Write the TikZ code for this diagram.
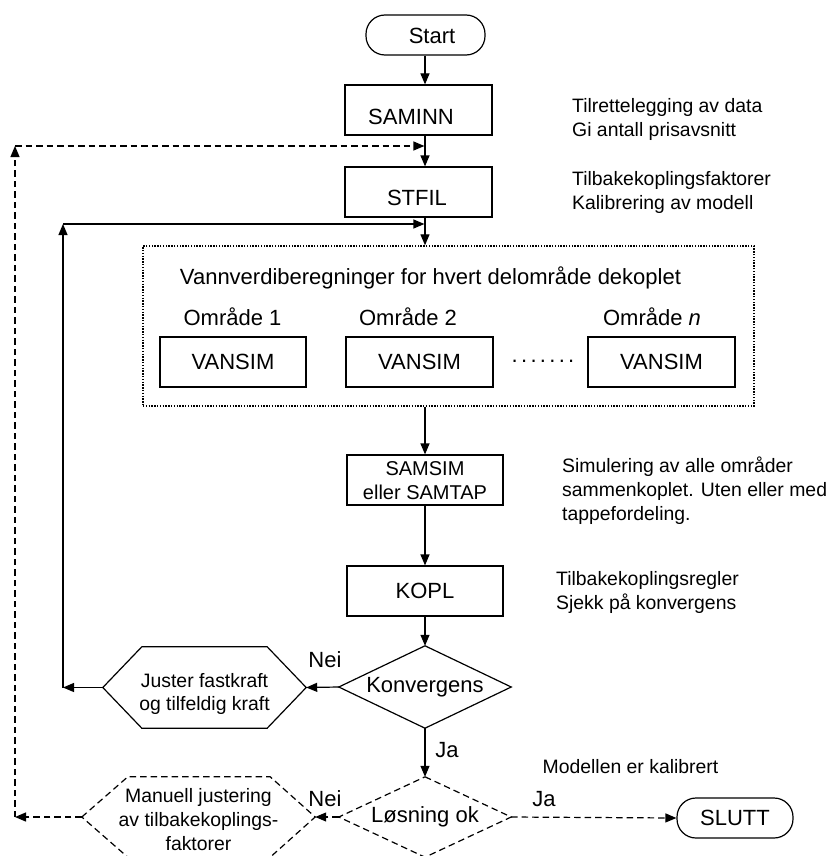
\documentclass[tikz,border=0pt]{standalone}
\usepackage{fontspec}
\setmainfont{Liberation Sans}
\usetikzlibrary{arrows.meta}
\newcommand{\fmain}{\fontsize{22}{26}\selectfont}
\newcommand{\fann}{\fontsize{19.4}{24}\selectfont}
\newcommand{\nudged}[3]{\hspace*{#1}\raisebox{#2}[\height][\depth]{#3}\hspace*{-#1}}
\newcommand{\blockc}[2]{\raisebox{#1}[\height][\depth]{\begin{tabular}{@{}c@{}}#2\end{tabular}}}
\newcommand{\blockl}[1]{\begin{tabular}{@{}l@{}}#1\end{tabular}}
\begin{document}
\begin{tikzpicture}[x=1pt,y=-1pt,
  >={Triangle[length=11pt,width=9pt]},
  conn/.style={line width=1.2pt},
  dconn/.style={line width=1.2pt,dash pattern=on 6.5pt off 4pt},
  procbox/.style={draw,line width=1.2pt,rectangle,inner sep=0pt,font=\fmain,align=center},
  termbox/.style={draw,line width=1.2pt,rectangle,rounded corners=19pt,inner sep=0pt,font=\fmain},
  shapebox/.style={rectangle,inner sep=0pt,align=center},
  dotbox/.style={draw,line width=1.4pt,dash pattern=on 1.4pt off 1.4pt,rectangle,inner sep=0pt},
  note/.style={anchor=west,inner sep=0pt,font=\fann},
  lbl/.style={inner sep=0pt,font=\fmain},
  outl/.style={line width=1.2pt,line join=miter},
  doutl/.style={line width=1.2pt,dash pattern=on 6.5pt off 4pt}
]
\useasboundingbox (0,0) rectangle (827,856);
\coordinate (ax) at (425,0);

% main column
\node[termbox,minimum width=119pt,minimum height=40pt] (start) at (425.5,35) {\nudged{6.5pt}{-1pt}{Start}};
\node[procbox,minimum width=147pt,minimum height=50pt] (saminn) at (418.5,110) {\nudged{-7.5pt}{-7pt}{SAMINN}};
\node[procbox,minimum width=147pt,minimum height=50pt] (stfil) at (418.5,192) {\nudged{-1.5pt}{-6pt}{STFIL}};

\node[dotbox,minimum width=611pt,minimum height=160pt] (vbox) at (448.5,326) {};
\node[lbl] (vtitle) at (430.5,278) {Vannverdiberegninger for hvert delområde dekoplet};
\node[lbl] (o1) at (232.5,317) {Område 1};
\node[lbl] (o2) at (408,317) {Område 2};
\node[lbl] (on) at (652,317) {Område \textit{n}};
\node[procbox,minimum width=146pt,minimum height=50pt] (v1) at (233,362) {VANSIM};
\node[procbox,minimum width=147pt,minimum height=50pt] (v2) at (419.5,362) {VANSIM};
\node[procbox,minimum width=147pt,minimum height=50pt] (vn) at (661.5,362) {VANSIM};
\node[lbl] (vdots) at (543,361) {\addfontfeature{LetterSpace=15}.......};

\node[procbox,minimum width=156pt,minimum height=50pt,font=\fontsize{20}{24}\selectfont] (samsim) at (425,480) {\blockc{-2.4pt}{SAMSIM\\eller SAMTAP}};
\node[procbox,minimum width=156pt,minimum height=50pt] (kopl) at (425,591) {KOPL};

\node[shapebox,minimum width=172pt,minimum height=82pt,font=\fmain] (konv) at (425,687) {Konvergens};
\draw[outl] (konv.north) -- (konv.east) -- (konv.south) -- (konv.west) -- cycle;

\node[shapebox,minimum width=203pt,minimum height=81pt,font=\fontsize{19.4}{23}\selectfont] (juster) at (204.5,687.5) {\blockc{-6.4pt}{Juster fastkraft\\og tilfeldig kraft}};
\draw[outl] (juster.west) -- ([xshift=39pt]juster.north west) -- ([xshift=-39pt]juster.north east) -- (juster.east) -- ([xshift=-39pt]juster.south east) -- ([xshift=39pt]juster.south west) -- cycle;

\node[shapebox,minimum width=172pt,minimum height=80pt,font=\fmain] (losn) at (425,817) {Løsning ok};
\draw[doutl] (losn.north) -- (losn.east) -- (losn.south) -- (losn.west) -- cycle;

\node[shapebox,minimum width=233pt,minimum height=80pt,font=\fann] (man) at (198.5,817) {\blockc{-4.2pt}{Manuell justering\\av tilbakekoplings-\\faktorer}};
\draw[doutl] (man.west) -- ([xshift=46pt]man.north west) -- ([xshift=-45pt]man.north east) -- (man.east) -- ([xshift=-45pt]man.south east) -- ([xshift=46pt]man.south west) -- cycle;

\node[termbox,minimum width=116pt,minimum height=40pt] (slutt) at (735,818) {SLUTT};

% annotations
\node[note] (n1) at (572,119.7) {\blockl{Tilrettelegging av data\\Gi antall prisavsnitt}};
\node[note] (n2) at (572,192.2) {\blockl{Tilbakekoplingsfaktorer\\Kalibrering av modell}};
\node[note] (n3) at (562,491.7) {\blockl{Simulering av alle områder\\sammenkoplet. Uten eller med\\tappefordeling.}};
\node[note] (n4) at (556,592.2) {\blockl{Tilbakekoplingsregler\\Sjekk på konvergens}};
\node[inner sep=0pt,font=\fann] (n5) at (630.5,767) {Modellen er kalibrert};

% branch labels
\node[lbl] (nei1) at (325,660) {Nei};
\node[lbl] (ja1) at (447,750) {Ja};
\node[lbl] (nei2) at (325,799) {Nei};
\node[lbl] (ja2) at (544,799) {Ja};

% main connectors
\draw[conn,->] (ax |- start.south) -- (ax |- saminn.north);
\draw[conn,->] (ax |- saminn.south) -- (ax |- stfil.north);
\draw[conn,->] (ax |- stfil.south) -- (ax |- vbox.north);
\draw[conn,->] (ax |- vbox.south) -- (samsim.north);
\draw[conn,->] (samsim.south) -- (kopl.north);
\draw[conn,->] (kopl.south) -- (konv.north);
\draw[conn,->] (konv.south) -- (losn.north);
\draw[conn,->] (konv.west) -- (juster.east);

% solid feedback loop
\coordinate (sbot) at (63,687.5);
\coordinate (stop) at (63,224);
\draw[conn,->] (juster.west) -- (sbot);
\draw[conn,->] (sbot) -- (stop);
\draw[conn,->,shorten >=0.6pt] (stop) -- (ax |- stop);

% dashed connectors
\coordinate (dbot) at (15,817);
\coordinate (dtop) at (15,146);
\draw[dconn,->] (losn.west) -- (man.east);
\draw[dconn,->] (losn.east) -- (slutt.west);
\draw[dconn,->] (man.west) -- (dbot);
\draw[dconn,->] (dbot) -- (dtop);
\draw[dconn,->,shorten >=0.6pt] (dtop) -- (ax |- dtop);
\end{tikzpicture}
\end{document}
